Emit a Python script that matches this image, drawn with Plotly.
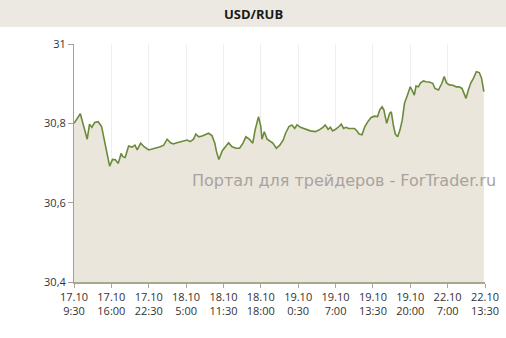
import plotly.graph_objects as go

# x: trading hours since 17.10 9:30 (ticks every 6.5 h), y: USD/RUB rate
hours = [0.0, 1.1, 1.7, 2.3, 2.7, 3.1, 3.6, 4.2, 4.8, 5.3, 5.7, 6.2, 6.7, 7.2, 7.7, 8.2, 8.5, 8.9,
         9.5, 10.1, 10.6, 11.0, 11.6, 12.2, 13.0, 13.6, 14.3, 15.0, 15.6, 16.2, 16.8, 17.3, 17.9,
         18.5, 19.1, 19.7, 20.2, 20.8, 21.2, 21.7, 22.3, 22.8, 23.4, 24.0, 24.5, 24.8, 25.2, 25.8,
         26.3, 26.9, 27.5, 28.2, 28.8, 29.4, 29.9, 30.5, 31.1, 31.5, 32.1, 32.5, 32.7, 33.1, 33.6,
         34.2, 34.6, 35.2, 35.8, 36.4, 36.8, 37.4, 37.9, 38.4, 38.8, 39.4, 40.2, 41.1, 42.0, 42.6,
         43.3, 43.7, 44.2, 44.6, 45.0, 45.5, 46.1, 46.5, 46.9, 47.3, 47.8, 48.4, 48.8, 49.2, 49.6,
         50.1, 50.6, 51.2, 51.7, 52.3, 52.8, 53.2, 53.6, 53.9, 54.4, 54.9, 55.2, 55.6, 55.9, 56.3,
         56.7, 57.1, 57.5, 58.0, 58.5, 58.8, 59.2, 59.5, 59.9, 60.3, 60.8, 61.2, 61.8, 62.4, 62.8,
         63.4, 64.0, 64.4, 64.8, 65.3, 65.9, 66.5, 67.0, 67.5, 67.9, 68.2, 68.6, 69.0, 69.5, 70.0,
         70.5, 70.9, 71.3]
rate = [30.800, 30.824, 30.792, 30.760, 30.798, 30.790, 30.802, 30.804, 30.792, 30.758, 30.724,
        30.692, 30.709, 30.708, 30.699, 30.724, 30.716, 30.714, 30.743, 30.740, 30.745, 30.733,
        30.750, 30.741, 30.733, 30.735, 30.737, 30.741, 30.745, 30.760, 30.751, 30.748, 30.751,
        30.754, 30.756, 30.758, 30.754, 30.760, 30.773, 30.766, 30.768, 30.771, 30.775, 30.769,
        30.750, 30.728, 30.709, 30.731, 30.741, 30.751, 30.741, 30.737, 30.737, 30.750, 30.766,
        30.760, 30.750, 30.783, 30.817, 30.792, 30.760, 30.779, 30.760, 30.754, 30.750, 30.737,
        30.745, 30.758, 30.775, 30.792, 30.796, 30.787, 30.796, 30.790, 30.785, 30.781, 30.779,
        30.783, 30.790, 30.796, 30.785, 30.790, 30.781, 30.785, 30.792, 30.798, 30.787, 30.790,
        30.787, 30.787, 30.787, 30.781, 30.773, 30.771, 30.792, 30.806, 30.815, 30.818, 30.817,
        30.834, 30.842, 30.834, 30.800, 30.825, 30.829, 30.792, 30.773, 30.766, 30.783, 30.808,
        30.851, 30.871, 30.892, 30.884, 30.871, 30.894, 30.892, 30.902, 30.907, 30.905, 30.904,
        30.901, 30.888, 30.884, 30.901, 30.918, 30.902, 30.897, 30.896, 30.892, 30.892, 30.888,
        30.876, 30.863, 30.884, 30.901, 30.914, 30.930, 30.928, 30.914, 30.880]

tick_hours = [0, 6.5, 13, 19.5, 26, 32.5, 39, 45.5, 52, 58.5, 65, 71.5]
tick_labels = ["17.10<br>9:30", "17.10<br>16:00", "17.10<br>22:30", "18.10<br>5:00",
               "18.10<br>11:30", "18.10<br>18:00", "19.10<br>0:30", "19.10<br>7:00",
               "19.10<br>13:30", "19.10<br>20:00", "22.10<br>7:00", "22.10<br>13:30"]
y_ticks = [30.4, 30.6, 30.8, 31]

fig = go.Figure()
fig.add_trace(go.Scatter(
    x=hours, y=rate, mode="lines",
    line=dict(color="#6B8A3A", width=1.6),
    fill="tozeroy", fillcolor="#EAE6DC",
    hoverinfo="skip", showlegend=False,
))

top, bottom = 44, 56
plot_w = 411
plot_h = 338 - top - bottom
fig.update_layout(
    width=506, height=338,
    margin=dict(l=74, r=21, t=top, b=bottom, autoexpand=False),
    paper_bgcolor="white", plot_bgcolor="white",
    separators=", ",
    font=dict(family="Open Sans, DejaVu Sans, sans-serif", size=11, color="#333333"),
    shapes=[dict(type="rect", xref="paper", yref="paper",
                 x0=-74 / plot_w, x1=1 + 21 / plot_w,
                 y0=1 + (top - 27) / plot_h, y1=1 + top / plot_h + 0.01,
                 fillcolor="#ECE9E2", line=dict(width=0), layer="below")],
    annotations=[
        dict(text="<b>USD/RUB</b>", xref="paper", yref="paper",
             x=(253 - 74) / plot_w, y=1 + (top - 14) / plot_h, showarrow=False,
             font=dict(size=13, color="#1a1a1a"), xanchor="center", yanchor="middle"),
        dict(text="Портал для трейдеров - ForTrader.ru", xref="paper", yref="paper",
             x=(344 - 74) / plot_w, y=(282 - 180) / plot_h, showarrow=False,
             font=dict(family="DejaVu Sans, sans-serif", size=16, color="#A9A2A0"),
             xanchor="center", yanchor="middle"),
    ],
)
fig.update_xaxes(
    range=[0, 71.5], tickmode="array", tickvals=tick_hours, ticktext=tick_labels,
    automargin=False,
    showgrid=True, gridcolor="#EEEEEE", gridwidth=1,
    showline=True, linecolor="#A8A890", linewidth=1.5,
    ticks="outside", ticklen=4, tickcolor="#A8A890", zeroline=False,
    tickfont=dict(size=11, color="#333333"),
)
fig.update_yaxes(
    range=[30.4, 31], tickmode="array", tickvals=y_ticks,
    ticktext=["30,4", "30,6", "30,8", "31"],
    automargin=False,
    showgrid=False, showline=True, linecolor="#A0A0A0", linewidth=1,
    ticks="outside", ticklen=5, tickcolor="#A0A0A0", zeroline=False,
    tickfont=dict(size=11, color="#333333"),
)

fig.write_html("out.html")
